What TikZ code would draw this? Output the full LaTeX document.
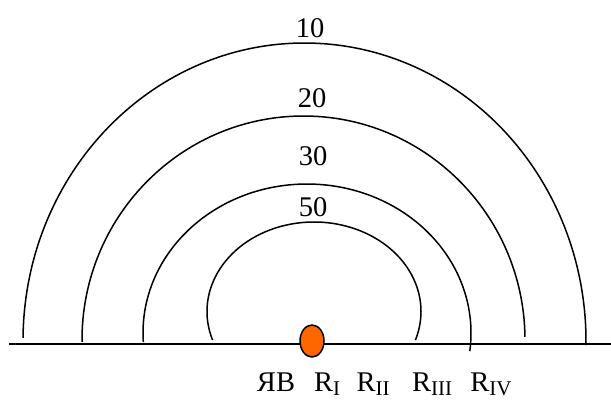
\documentclass[tikz,border=0pt]{standalone}
\usepackage{fontspec}
\setmainfont{Liberation Serif}
\usepackage{xcolor}
\definecolor{blast}{RGB}{255,102,0}
\usepackage{tikz}
\usetikzlibrary{shapes.geometric,positioning}
\newcommand{\rsub}[1]{\raisebox{-4bp}{\fontsize{21bp}{21bp}\selectfont #1}}

\begin{document}
\begin{tikzpicture}[x=1bp,y=1bp,
    zone/.style={line width=1.5bp},
    lbl/.style={font=\fontsize{28.5bp}{32bp}\selectfont,inner sep=0pt}]
  \useasboundingbox (0,0) rectangle (611,401);
  % ground line and the burst point
  \coordinate (west) at (9,57);
  \coordinate (east) at (611,57);
  \draw[line width=2bp] (west) -- (east);
  \node[ellipse,draw,line width=1.5bp,fill=blast,minimum width=24bp,minimum height=32bp,inner sep=0pt] (yav) at (312,60) {};
  % zones
  \draw[zone] (304.5,60) ++(179.4:281.5 and 298) arc[start angle=179.4,end angle=-0.8,x radius=281.5,y radius=298];
  \draw[zone] (303.5,61) ++(180.5:221.5 and 224) arc[start angle=180.5,end angle=0.8,x radius=221.5,y radius=224];
  \draw[zone] (307,68) ++(183.5:164 and 149) arc[start angle=183.5,end angle=-7,x radius=164,y radius=149];
  \draw[zone] (314,89.5) ++(198.6:107 and 89.5) arc[start angle=198.6,end angle=-18.6,x radius=107,y radius=89.5];
  \node[lbl] (p10) at (310,373) {10};
  \node[lbl] (p20) at (312,303) {20};
  \node[lbl] (p30) at (313,245) {30};
  \node[lbl] (p50) at (313,194) {50};
  % radii
  \node[lbl,anchor=base] (yv) at (276,10) {ЯВ};
  \node[lbl,anchor=base] (r1) at (327,10) {R\rsub{I}};
  \node[lbl,anchor=base] (r2) at (373,10) {R\rsub{II}};
  \node[lbl,anchor=base] (r3) at (432,10) {R\rsub{III}};
  \node[lbl,anchor=base] (r4) at (491,10) {R\rsub{IV}};
\end{tikzpicture}
\end{document}
